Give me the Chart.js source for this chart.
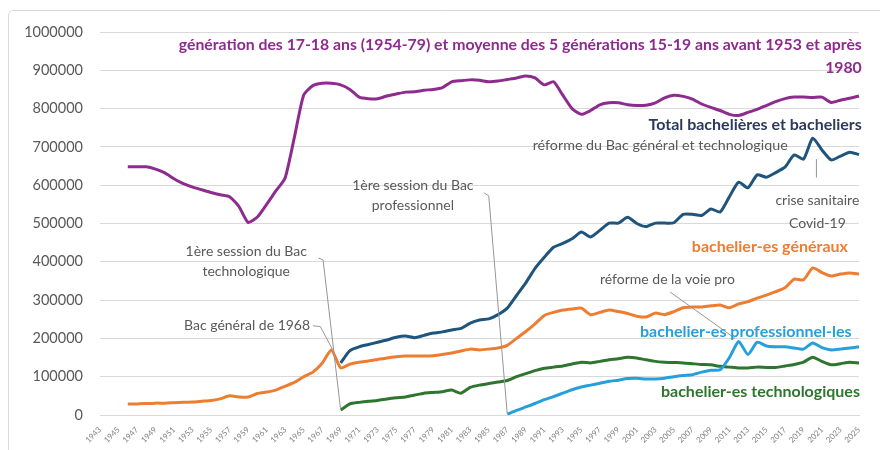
<!DOCTYPE html>
<html>
<head>
<meta charset="utf-8">
<script src="https://cdn.jsdelivr.net/npm/chart.js@4/dist/chart.umd.min.js"></script>
<style>
  html, body { margin: 0; padding: 0; background: #fff; }
  #wrap { width: 880px; height: 450px; }
</style>
</head>
<body>
<div id="wrap"><canvas id="bac-chart" width="880" height="450"></canvas></div>
<script>
// years on the axis
let firstYear = 1943;
let lastYear = 2025;
let years = [];
for (let y = firstYear; y <= lastYear; y++) years.push(String(y));

// génération (from 1946)
let generation = [648, 648, 648, 642, 632, 617, 604, 595, 588, 581,
  575, 570, 545, 503, 517, 550, 585, 619, 725, 835,
  860, 866, 866, 862, 850, 830, 826, 826, 833, 838,
  843, 844, 848, 850, 855, 870, 873, 875, 874, 870,
  872, 876, 880, 885, 880, 862, 870, 835, 800, 785,
  795, 810, 815, 815, 810, 808, 809, 815, 828, 835,
  832, 825, 812, 803, 795, 785, 782, 790, 798, 808,
  818, 826, 830, 830, 829, 830, 816, 822, 827, 833];

// bachelier-es généraux (from 1946)
let generaux = [29, 29, 30, 31, 31, 32, 33, 34, 36, 38,
  42, 50, 47, 47, 56, 60, 65, 75, 85, 100,
  112, 135, 170, 123, 133, 138, 141, 145, 149, 152,
  154, 154, 154, 155, 158, 162, 167, 172, 170, 172,
  175, 182, 200, 218, 238, 260, 268, 274, 277, 279,
  262, 268, 274, 270, 265, 258, 256, 266, 262, 270,
  280, 282, 282, 285, 287, 280, 290, 296, 305, 313,
  322, 332, 355, 353, 384, 372, 363, 368, 371, 368];

// total bachelières et bacheliers (from 1969)
let total = [136, 168, 178, 184, 190, 196, 203, 206, 202, 208,
  214, 217, 222, 226, 240, 248, 251, 262, 279, 312,
  345, 383, 412, 438, 448, 460, 478, 465, 482, 501,
  501, 516, 500, 492, 501, 501, 502, 524, 524, 521,
  538, 530, 570, 608, 593, 627, 621, 633, 647, 679,
  668, 723, 692, 666, 676, 686, 680];

// bachelier-es technologiques (from 1969)
let techno = [13, 29, 33, 36, 38, 42, 45, 47, 52, 57,
  59, 61, 65, 57, 72, 78, 82, 86, 90, 100,
  108, 116, 122, 125, 128, 133, 138, 136, 140, 144,
  147, 151, 149, 144, 140, 138, 137, 136, 134, 132,
  131, 127, 125, 123, 123, 125, 124, 124, 128, 132,
  138, 151, 140, 131, 134, 138, 136];

// bachelier-es professionnel-les (from 1987)
let pro = [2, 12, 21, 30, 40, 48, 57, 66, 73, 78,
  83, 88, 91, 95, 96, 94, 94, 96, 100, 103,
  105, 112, 117, 118, 150, 192, 158, 190, 180, 178,
  178, 175, 172, 188, 176, 170, 172, 175, 178];

function fromYear(start, vals) {
  let out = [];
  for (let y = firstYear; y <= lastYear; y++) {
    let i = y - start;
    out.push(i >= 0 && i < vals.length ? vals[i] * 1000 : null);
  }
  return out;
}

let purple = "rgb(142,43,142)";
let navy = "rgb(31,84,125)";
let orange = "rgb(237,125,49)";
let green = "rgb(46,117,46)";
let sky = "rgb(38,160,218)";
let grey = "rgb(89,89,89)";

// texts placed in data units (index on the year axis, value)
let notes = [
  {t: "génération des 17-18 ans (1954-79) et moyenne des 5 générations 15-19 ans avant 1953 et après", i: 82.3, v: 966000, a: "right", c: purple, b: true, s: 15.8},
  {t: "1980", i: 82.3, v: 906000, a: "right", c: purple, b: true, s: 15.8},
  {t: "Total bachelières et bacheliers", i: 82.3, v: 757000, a: "right", c: "rgb(44,58,92)", b: true, s: 16},
  {t: "réforme du Bac général et technologique", i: 74.3, v: 705000, a: "right", c: grey, s: 14.3},
  {t: "crise sanitaire", i: 77.5, v: 561000, a: "center", c: grey, s: 14},
  {t: "Covid-19", i: 77.5, v: 501000, a: "center", c: grey, s: 14},
  {t: "bachelier-es généraux", i: 80.8, v: 439000, a: "right", c: orange, b: true, s: 16},
  {t: "1ère session du Bac", i: 33.8, v: 598000, a: "center", c: grey, s: 14},
  {t: "professionnel", i: 33.8, v: 546000, a: "center", c: grey, s: 14},
  {t: "1ère session du Bac", i: 15.8, v: 426000, a: "center", c: grey, s: 14},
  {t: "technologique", i: 15.8, v: 376000, a: "center", c: grey, s: 14},
  {t: "Bac général de 1968", i: 22.7, v: 235000, a: "right", c: grey, s: 14},
  {t: "réforme de la voie pro", i: 61.3, v: 355000, a: "center", c: grey, s: 14},
  {t: "bachelier-es professionnel-les", i: 81.2, v: 217000, a: "right", c: sky, b: true, s: 16},
  {t: "bachelier-es technologiques", i: 82.1, v: 60000, a: "right", c: green, b: true, s: 16}
];

let leaders = [
  [[41.5, 580000], [42.0, 572000], [44, 2000]],
  [[23.6, 410000], [24.1, 405000], [26, 13000]],
  [[23.0, 233000], [23.8, 231000], [25.1, 172000]],
  [[61.6, 321000], [68.6, 200000]],
  [[77.4, 668000], [77.4, 620000]]
];

let notesPlugin = {
  id: 'notes',
  beforeDraw(chart) {
    let ctx = chart.ctx;
    ctx.save();
    ctx.strokeStyle = "rgb(217,217,217)";
    ctx.lineWidth = 1;
    ctx.beginPath();
    ctx.moveTo(8.5, 460);
    ctx.lineTo(8.5, 16);
    ctx.quadraticCurveTo(8.5, 10.5, 14, 10.5);
    ctx.lineTo(890, 10.5);
    ctx.stroke();
    ctx.restore();
  },
  afterDatasetsDraw(chart) {
    let ctx = chart.ctx;
    let xs = chart.scales.x, ys = chart.scales.y;
    ctx.save();
    ctx.strokeStyle = "rgb(150,150,150)";
    ctx.lineWidth = 1;
    leaders.forEach(function(l) {
      ctx.beginPath();
      l.forEach(function(p, k) {
        let px = xs.getPixelForValue(p[0]), py = ys.getPixelForValue(p[1]);
        if (k == 0) ctx.moveTo(px, py); else ctx.lineTo(px, py);
      });
      ctx.stroke();
    });
    ctx.textBaseline = "middle";
    notes.forEach(function(n) {
      ctx.font = (n.b ? "bold " : "") + n.s + "px Lato";
      ctx.fillStyle = n.c;
      ctx.textAlign = n.a;
      ctx.fillText(n.t, xs.getPixelForValue(n.i), ys.getPixelForValue(n.v));
    });
    ctx.restore();
  }
};

function line(data, color) {
  return {
    data: data,
    borderColor: color,
    backgroundColor: color,
    borderWidth: 3,
    pointRadius: 0,
    tension: 0.2,
    spanGaps: false
  };
}

let ctx = document.getElementById('bac-chart').getContext('2d');
let bacChart = new Chart(ctx, {
  type: 'line',
  data: {
    labels: years,
    datasets: [
      line(fromYear(1946, generation), purple),
      line(fromYear(1969, total), navy),
      line(fromYear(1946, generaux), orange),
      line(fromYear(1987, pro), sky),
      line(fromYear(1969, techno), green)
    ]
  },
  options: {
    responsive: false,
    animation: false,
    layout: {
      padding: { left: 0, right: 21, top: 32, bottom: 0 }
    },
    plugins: {
      legend: { display: false },
      tooltip: { enabled: false }
    },
    scales: {
      x: {
        offset: false,
        grid: { display: false },
        border: { color: "rgb(217,217,217)" },
        ticks: {
          autoSkip: false,
          minRotation: 45,
          maxRotation: 45,
          color: "rgb(130,130,130)",
          font: { family: "Lato", size: 8 },
          padding: 2,
          callback: function(v, i) { return i % 2 == 0 ? years[i] : ""; }
        },
        afterFit: function(s) { s.height = 35; }
      },
      y: {
        min: 0,
        max: 1000000,
        grid: { color: "rgb(217,217,217)", drawTicks: false },
        border: { display: false },
        ticks: {
          stepSize: 100000,
          color: grey,
          padding: 17,
          font: { family: "Lato", size: 14.5 },
          callback: function(v) { return String(v); }
        },
        afterFit: function(s) { s.width = 100; }
      }
    }
  },
  plugins: [notesPlugin]
});
</script>
</body>
</html>
